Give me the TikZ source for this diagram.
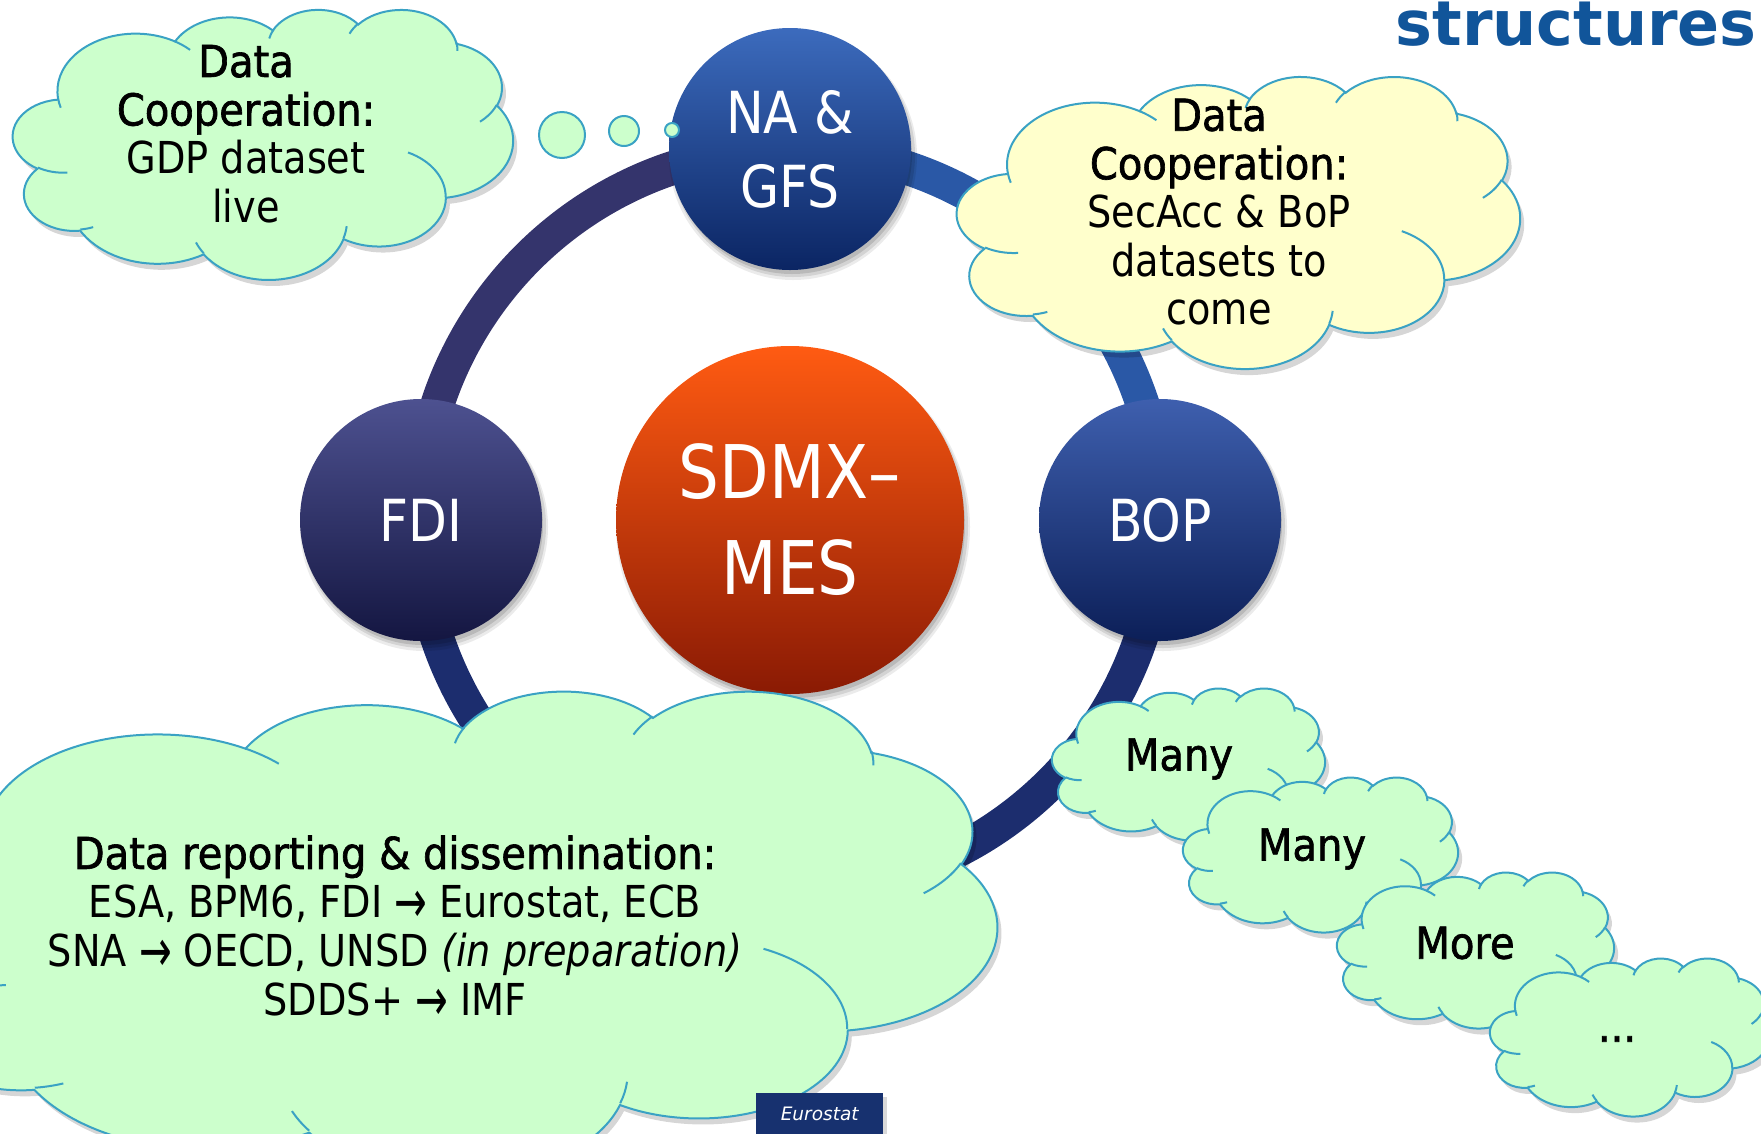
\documentclass[tikz,border=0pt]{standalone}
\usepackage{fontspec}
\usepackage{graphicx}
\newfontfamily\fCl[FakeStretch=0.87]{DejaVu Sans}
\newfontfamily\fClB[FakeStretch=0.91,FakeBold=1.5]{DejaVu Sans}
\newfontfamily\fTitle{DejaVu Sans}
\definecolor{cgreen}{HTML}{CCFFCC}
\definecolor{cyellow}{HTML}{FFFFCC}
\definecolor{cloudline}{HTML}{3AA2C4}
\definecolor{titleblue}{HTML}{11559A}
\definecolor{eubox}{HTML}{17316F}
\definecolor{ringL}{HTML}{34346C}
\definecolor{ringR}{HTML}{2A58A6}
\definecolor{ringB}{HTML}{1C2D6E}
\newcommand\rarr{\raisebox{-4.5pt}{\scalebox{1.02}[1.35]{→}}}
\newcommand\cArc[4]{arc[x radius=#1pt, y radius=#2pt,
  start angle={atan2((#1)*sin(#3),(#2)*cos(#3))},
  delta angle={mod(atan2((#1)*sin((#3)+(#4)),(#2)*cos((#3)+(#4)))-atan2((#1)*sin(#3),(#2)*cos(#3))+720,360)}]}
\def\cloudout{(90.28,332.64)
 \cArc{156.32}{212.73}{-190.487}{123.781}
 \cArc{123.45}{168.22}{-144.102}{89.945}
 \cArc{101.04}{137.62}{-145.808}{99.723}
 \cArc{112.43}{152.66}{-130.986}{117.242}
 \cArc{123.45}{168.36}{-78.709}{109.027}
 \cArc{156.83}{213.43}{-46.267}{130.269}
 \cArc{133.91}{182.11}{0.625}{114.033}
 \cArc{156.30}{213.31}{22.452}{115.173}
 \cArc{178.70}{244.05}{66.243}{75.711}
 \cArc{100.93}{136.99}{-274.942}{146.736}
 \cArc{100.58}{137.62}{-246.829}{152.519} -- cycle}
\def\cloudin{(108.63,605.95) \cArc{100.58}{137.62}{86.742}{26.430}
 (160.37,807.85) \cArc{100.93}{136.99}{73.610}{11.447}
 (381.44,904.86) \cArc{156.30}{213.31}{137.624}{14.081}
 (667.29,804.42) \cArc{156.30}{213.31}{6.453}{15.998}
 (790.02,531.34) \cArc{133.91}{182.11}{-70.292}{70.917}
 (967.55,355.42) \cArc{123.45}{168.36}{30.318}{27.752}
 (887.13,125.60) \cArc{112.43}{152.66}{-13.744}{14.859}
 (673.10,91.48) \cArc{112.43}{152.66}{-149.181}{18.195}
 (512.52,109.26) \cArc{101.04}{137.62}{-163.494}{17.686}
 (324.07,120.19) \cArc{156.32}{212.73}{-66.707}{12.319}
 (95.53,365.49) \cArc{156.32}{212.73}{157.654}{11.858}}
\newcommand\pCloud[5]{%
 \begin{scope}[shift={(#1+4,#2+6)}, xscale=#3/1000, yscale=#4/1000]
   \fill[black, opacity=0.16] \cloudout;
 \end{scope}
 \begin{scope}[shift={(#1,#2)}, xscale=#3/1000, yscale=#4/1000]
   \filldraw[fill=#5, draw=cloudline, line width=2pt] \cloudout;
   \draw[cloudline, line width=2pt] \cloudin;
 \end{scope}}
\newcommand\cShadow[3]{%
  \fill[black, opacity=0.08] (#1+3,#2+7) circle[radius=#3+3];
  \fill[black, opacity=0.10] (#1+3,#2+6) circle[radius=#3+1];
  \fill[black, opacity=0.12] (#1+2,#2+5) circle[radius=#3-1];}
\tikzset{
  ball/.style={circle, inner sep=0pt, minimum size=242pt, text=white, align=center,
    font=\fCl\fontsize{58}{74}\selectfont},
  ctext/.style={align=center, text=black, font=\fCl\fontsize{44}{48.5}\selectfont},
  bubble/.style={fill=cgreen, draw=cloudline, line width=2pt}
}
\begin{document}
\begin{tikzpicture}[x=1pt,y=1pt]
\begin{scope}[yscale=-1]
\useasboundingbox (0,0) rectangle (1761,1133);
% ring
\draw[ringL, line width=34pt] (790,149) arc[start angle=-90, end angle=-180, radius=371];
\draw[ringR, line width=34pt] (790,149) arc[start angle=-90, end angle=0, radius=371];
\draw[ringB, line width=34pt] (1160,520) arc[start angle=0, end angle=180, radius=371];
% circles
\cShadow{790}{149}{121}
\cShadow{421}{520}{121}
\cShadow{1160}{520}{121}
\cShadow{790}{520}{174}
\node[ball, top color={rgb,255:red,60;green,107;blue,189}, bottom color={rgb,255:red,11;green,37;blue,99}] (na) at (790,149) {NA \&\\GFS};
\node[ball, top color={rgb,255:red,77;green,81;blue,144}, bottom color={rgb,255:red,20;green,22;blue,65}] (fdi) at (421,520) {FDI};
\node[ball, top color={rgb,255:red,62;green,95;blue,174}, bottom color={rgb,255:red,12;green,31;blue,88}] (bop) at (1160,520) {BOP};
\node[ball, minimum size=348pt, font=\fCl\fontsize{74}{96}\selectfont,
  top color={rgb,255:red,255;green,91;blue,18}, bottom color={rgb,255:red,138;green,26;blue,4}] (sdmx) at (790,520) {SDMX–\\MES};
% clouds
\pCloud{13}{9}{500}{270}{cgreen}
\filldraw[bubble] (562,135) circle[radius=23];
\filldraw[bubble] (624,131) circle[radius=15];
\filldraw[bubble] (672,130) circle[radius=7];
\pCloud{957}{76}{563}{292}{cyellow}
\pCloud{-115}{690}{1112}{487}{cgreen}
\pCloud{1052}{688}{273}{152}{cgreen}
\pCloud{1183}{777}{275}{155}{cgreen}
\pCloud{1337}{872}{277}{156}{cgreen}
\pCloud{1490}{958}{280}{158}{cgreen}
% texts
\node[ctext] (tlt) at (246,134) {{\fClB Data}\\{\fClB Cooperation:}\\GDP dataset\\live};
\node[ctext] (trt) at (1219,212) {{\fClB Data}\\{\fClB Cooperation:}\\SecAcc \& BoP\\datasets to\\come};
\node[ctext, font=\fCl\fontsize{44}{49}\selectfont] (bt) at (395,928)
  {{\fClB Data reporting \& dissemination:}\\ESA, BPM6, FDI \rarr{} Eurostat, ECB\\SNA \rarr{} OECD, UNSD {\itshape (in preparation)}\\SDDS+ \rarr{} IMF};
\node[ctext, font=\fClB\fontsize{44}{48}\selectfont] (m1) at (1179,759) {Many};
\node[ctext, font=\fClB\fontsize{44}{48}\selectfont] (m2) at (1312,849) {Many};
\node[ctext, font=\fClB\fontsize{44}{48}\selectfont] (m3) at (1465,943) {More};
\node[ctext, font=\fClB\fontsize{44}{48}\selectfont] (m4) at (1617,1039) {...};
% title
\node[anchor=base east, inner sep=0pt, text=titleblue, font=\fTitle\bfseries\fontsize{62}{70}\selectfont] (title) at (1757,45) {structures};
% footer
\fill[black, opacity=0.15] (759,1097) rectangle (887,1140);
\node[fill=eubox, minimum width=127pt, minimum height=42pt, inner sep=0pt, anchor=north west,
  text=white, font=\fTitle\itshape\fontsize{18.5}{22}\selectfont] (eu) at (756,1093) {Eurostat};
\end{scope}
\end{tikzpicture}
\end{document}
